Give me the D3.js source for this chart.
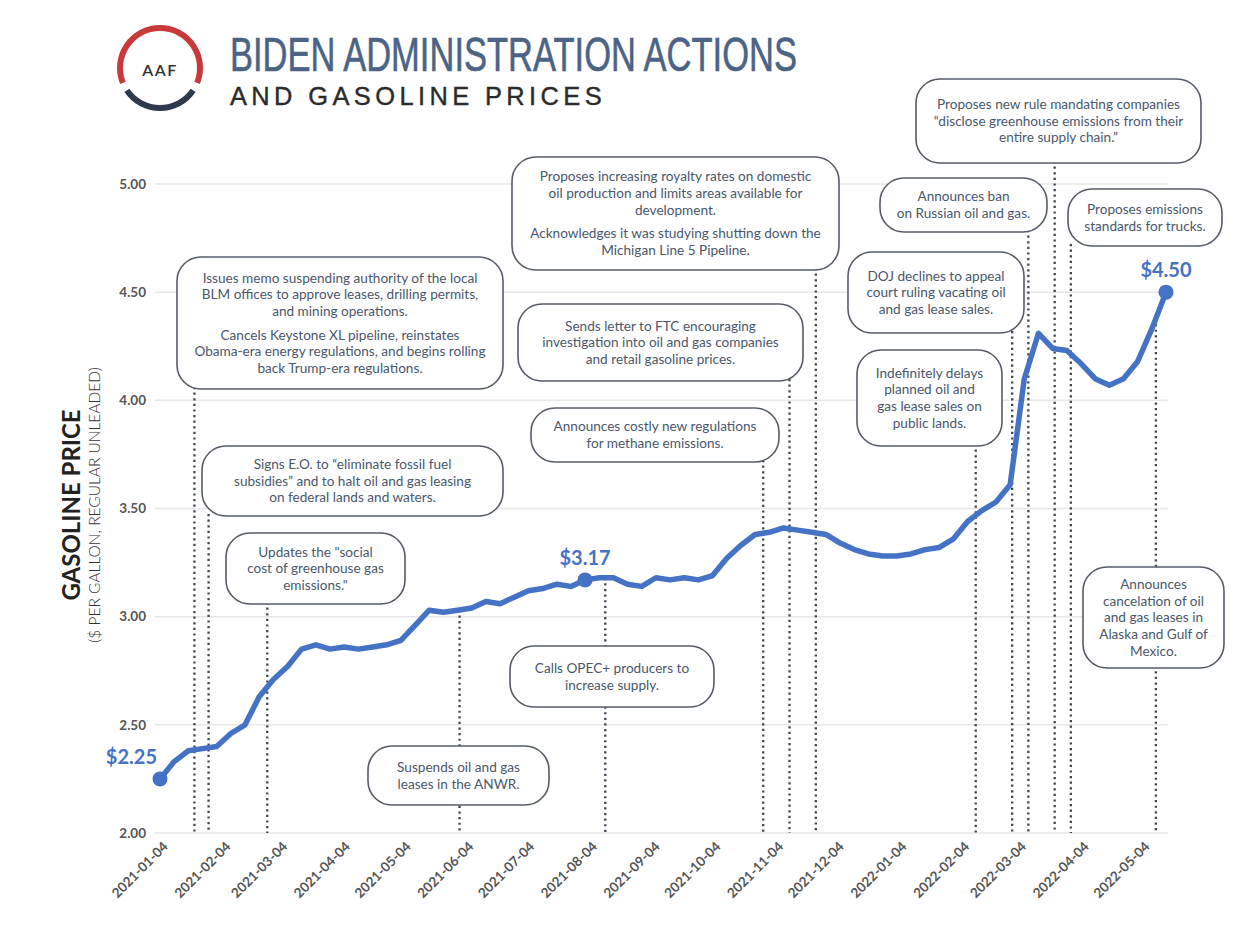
<!DOCTYPE html>
<html>
<head>
<meta charset="utf-8">
<script src="https://cdn.jsdelivr.net/npm/d3@7"></script>
<style>
  html, body { margin: 0; padding: 0; background: #ffffff; }
  svg { display: block; }
</style>
</head>
<body>
<svg id="chart" width="1260" height="928"></svg>
<script>
// ---------------- DATA ----------------
const weekDates = [
  "2021-01-04","2021-01-11","2021-01-18","2021-01-25","2021-02-01","2021-02-08","2021-02-15","2021-02-22",
  "2021-03-01","2021-03-08","2021-03-15","2021-03-22","2021-03-29","2021-04-05","2021-04-12","2021-04-19",
  "2021-04-26","2021-05-03","2021-05-10","2021-05-17","2021-05-24","2021-05-31","2021-06-07","2021-06-14",
  "2021-06-21","2021-06-28","2021-07-05","2021-07-12","2021-07-19","2021-07-26","2021-08-02","2021-08-09",
  "2021-08-16","2021-08-23","2021-08-30","2021-09-06","2021-09-13","2021-09-20","2021-09-27","2021-10-04",
  "2021-10-11","2021-10-18","2021-10-25","2021-11-01","2021-11-08","2021-11-15","2021-11-22","2021-11-29",
  "2021-12-06","2021-12-13","2021-12-20","2021-12-27","2022-01-03","2022-01-10","2022-01-17","2022-01-24",
  "2022-01-31","2022-02-07","2022-02-14","2022-02-21","2022-02-28","2022-03-07","2022-03-14","2022-03-21",
  "2022-03-28","2022-04-04","2022-04-11","2022-04-18","2022-04-25","2022-05-02","2022-05-09","2022-05-16"
];
const prices = [
  2.25, 2.33, 2.38, 2.39, 2.40, 2.46, 2.50, 2.63,
  2.71, 2.77, 2.85, 2.87, 2.85, 2.86, 2.85, 2.86,
  2.87, 2.89, 2.96, 3.03, 3.02, 3.03, 3.04, 3.07,
  3.06, 3.09, 3.12, 3.13, 3.15, 3.14, 3.17, 3.18,
  3.18, 3.15, 3.14, 3.18, 3.17, 3.18, 3.17, 3.19,
  3.27, 3.33, 3.38, 3.39, 3.41, 3.40, 3.39, 3.38,
  3.34, 3.31, 3.29, 3.28, 3.28, 3.29, 3.31, 3.32,
  3.36, 3.44, 3.49, 3.53, 3.61, 4.10, 4.31, 4.24,
  4.23, 4.17, 4.10, 4.07, 4.10, 4.18, 4.33, 4.50
];
const xTickLabels = [
  "2021-01-04","2021-02-04","2021-03-04","2021-04-04","2021-05-04","2021-06-04","2021-07-04","2021-08-04",
  "2021-09-04","2021-10-04","2021-11-04","2021-12-04","2022-01-04","2022-02-04","2022-03-04","2022-04-04","2022-05-04"
];
const yTickValues = [2.00, 2.50, 3.00, 3.50, 4.00, 4.50, 5.00];
const highlightDates = ["2021-01-04", "2021-08-02", "2022-05-16"];
const highlightLabels = ["$2.25", "$3.17", "$4.50"];

const eventDates = [
  "2021-01-21","2021-01-28","2021-02-26","2021-06-01","2021-08-12","2021-10-29","2021-11-11",
  "2021-11-24","2022-02-11","2022-03-01","2022-03-09","2022-03-22","2022-03-30","2022-05-11"
];
const eventTexts = [
  ["Issues memo suspending authority of the local","BLM offices to approve leases, drilling permits,","and mining operations.","","Cancels Keystone XL pipeline, reinstates","Obama-era energy regulations, and begins rolling","back Trump-era regulations."],
  ["Signs E.O. to \u201celiminate fossil fuel","subsidies\u201d and to halt oil and gas leasing","on federal lands and waters."],
  ["Updates the \"social","cost of greenhouse gas","emissions.\""],
  ["Suspends oil and gas","leases in the ANWR."],
  ["Calls OPEC+ producers to","increase supply."],
  ["Announces costly new regulations","for methane emissions."],
  ["Sends letter to FTC encouraging","investigation into oil and gas companies","and retail gasoline prices."],
  ["Proposes increasing royalty rates on domestic","oil production and limits areas available for","development.","","Acknowledges it was studying shutting down the","Michigan Line 5 Pipeline."],
  ["Indefinitely delays","planned oil and","gas lease sales on","public lands."],
  ["DOJ declines to appeal","court ruling vacating oil","and gas lease sales."],
  ["Announces ban","on Russian oil and gas."],
  ["Proposes new rule mandating companies","\u201cdisclose greenhouse emissions from their","entire supply chain.\u201d"],
  ["Proposes emissions","standards for trucks."],
  ["Announces","cancelation of oil","and gas leases in","Alaska and Gulf of","Mexico."]
];
// annotation box layout (pixels): left, top, width, height, and whether box sits below the line
const boxLayout = [
  {x:177, y:257, w:326, h:132, below:false},
  {x:202, y:446, w:301, h:70,  below:false},
  {x:226, y:533, w:179, h:71,  below:false},
  {x:368, y:746, w:181, h:59,  below:true},
  {x:510, y:646, w:204, h:61,  below:true},
  {x:531, y:408, w:248, h:54,  below:false},
  {x:518, y:304, w:285, h:77,  below:false},
  {x:512, y:157, w:327, h:113, below:false},
  {x:857, y:350, w:145, h:96,  below:false},
  {x:848, y:252, w:176, h:81,  below:false},
  {x:880, y:178, w:167, h:54,  below:false},
  {x:916, y:79,  w:285, h:84,  below:false},
  {x:1068,y:189, w:154, h:57,  below:false},
  {x:1083,y:567, w:141, h:101, below:true}
];

// ---------------- DRAW ----------------
const parse = d3.utcParse("%Y-%m-%d");
const svg = d3.select("#chart");
const FONT = "Lato, 'Open Sans', sans-serif";
const TITLEFONT = "'Liberation Sans Narrow', 'Liberation Sans', Arial, sans-serif";

const x = d3.scaleUtc()
  .domain([parse("2021-01-04"), parse("2022-05-16")])
  .range([160, 1166]);
const y = d3.scaleLinear().domain([2, 5]).range([833, 184]);

const series = weekDates.map((d, i) => ({date: parse(d), value: prices[i]}));

// Gridlines + y labels
const yAxis = d3.axisLeft(y).tickValues(yTickValues).tickFormat(d3.format(".2f")).tickSize(0).tickPadding(9);
const yg = svg.append("g").attr("transform", "translate(155,0)").call(yAxis);
yg.select(".domain").remove();
yg.selectAll("text")
  .attr("font-family", FONT)
  .attr("font-weight", 700).attr("font-size", 13.5).attr("fill", "#555");
svg.append("g").selectAll("line").data(yTickValues).join("line")
  .attr("x1", 155).attr("x2", 1168)
  .attr("y1", d => y(d)).attr("y2", d => y(d))
  .attr("stroke", "#e6e6e6").attr("stroke-width", 1.5);

// X axis labels
const xAxis = d3.axisBottom(x).tickValues(xTickLabels.map(parse)).tickFormat(d3.utcFormat("%Y-%m-%d")).tickSize(0);
const xg = svg.append("g").attr("transform", "translate(0,833)").call(xAxis);
xg.select(".domain").remove();
xg.selectAll("text")
  .attr("font-family", FONT)
  .attr("font-weight", 700).attr("font-size", 13.5).attr("fill", "#555")
  .attr("text-anchor", "end")
  .attr("transform", "translate(5,11) rotate(-45)")
  .attr("dy", "0.35em").attr("y", 0);

// interpolate value at a date
const bis = d3.bisector(d => d.date).left;
function valueAt(dt) {
  const i = Math.min(Math.max(bis(series, dt), 1), series.length - 1);
  const a = series[i - 1], b = series[i];
  const t = (dt - a.date) / (b.date - a.date);
  return a.value + (b.value - a.value) * t;
}

// Dotted event lines
const evs = eventDates.map((d, i) => ({date: parse(d), text: eventTexts[i], box: boxLayout[i]}));
svg.append("g").selectAll("line").data(evs).join("line")
  .attr("x1", d => x(d.date)).attr("x2", d => x(d.date))
  .attr("y1", d => d.box.below ? y(valueAt(d.date)) : d.box.y + d.box.h - 2)
  .attr("y2", y(2))
  .attr("stroke", "#3f4652").attr("stroke-width", 2.3)
  .attr("stroke-dasharray", "2.2 3.4");

// Price line
svg.append("path").datum(series)
  .attr("fill", "none").attr("stroke", "#4472c4").attr("stroke-width", 5.5)
  .attr("stroke-linejoin", "round").attr("stroke-linecap", "round")
  .attr("d", d3.line().x(d => x(d.date)).y(d => y(d.value)));

// Highlight dots and labels
const hl = highlightDates.map((d, i) => {
  const s = series.find(p => +p.date === +parse(d));
  return {date: s.date, value: s.value, label: highlightLabels[i], idx: i};
});
svg.append("g").selectAll("circle").data(hl).join("circle")
  .attr("cx", d => x(d.date)).attr("cy", d => y(d.value)).attr("r", 7.5)
  .attr("fill", "#4472c4");
svg.append("g").selectAll("text").data(hl).join("text")
  .attr("x", d => d.idx === 0 ? x(d.date) - 3 : x(d.date))
  .attr("y", d => y(d.value) - 15)
  .attr("text-anchor", d => d.idx === 0 ? "end" : "middle")
  .attr("font-family", FONT)
  .attr("font-weight", 700).attr("font-size", 20).attr("fill", "#4472c4")
  .text(d => d.label);

// Annotation boxes
const lh = 16.7, pg = 7;
const bg = svg.append("g").selectAll("g").data(evs).join("g");
bg.append("rect")
  .attr("x", d => d.box.x).attr("y", d => d.box.y)
  .attr("width", d => d.box.w).attr("height", d => d.box.h)
  .attr("rx", d => Math.min(24, d.box.h / 2.2)).attr("ry", d => Math.min(24, d.box.h / 2.2))
  .attr("fill", "#ffffff").attr("stroke", "#555c68").attr("stroke-width", 1.6);
bg.each(function(d) {
  const g = d3.select(this);
  const lines = d.text;
  const nText = lines.filter(l => l !== "").length;
  const nGap = lines.filter(l => l === "").length;
  const total = nText * lh + nGap * pg;
  let cy = d.box.y + d.box.h / 2 - total / 2;
  const cx = d.box.x + d.box.w / 2;
  lines.forEach(l => {
    if (l === "") { cy += pg; return; }
    g.append("text")
      .attr("x", cx).attr("y", cy + lh / 2)
      .attr("dy", "0.35em")
      .attr("text-anchor", "middle")
      .attr("font-family", FONT)
      .attr("font-size", 13.6).attr("fill", "#4a576b")
      .text(l);
    cy += lh;
  });
});

// Axis titles
svg.append("text")
  .attr("transform", "translate(80,505) rotate(-90)")
  .attr("text-anchor", "middle")
  .attr("font-family", FONT)
  .attr("font-weight", 700).attr("font-size", 24).attr("fill", "#222")
  .text("GASOLINE PRICE");
svg.append("text")
  .attr("transform", "translate(100,505) rotate(-90)")
  .attr("text-anchor", "middle")
  .attr("font-family", FONT)
  .attr("font-weight", 300).attr("font-size", 15.5).attr("fill", "#333")
  .text("($ PER GALLON, REGULAR UNLEADED)");

// Logo
const logo = svg.append("g").attr("transform", "translate(160,68)");
const arc = d3.arc().innerRadius(37).outerRadius(43);
logo.append("path").attr("d", arc({startAngle: -112 * Math.PI / 180, endAngle: 112 * Math.PI / 180})).attr("fill", "#c9383b");
logo.append("path").attr("d", arc({startAngle: 124 * Math.PI / 180, endAngle: 236 * Math.PI / 180})).attr("fill", "#2e3a4e");
logo.append("text").attr("text-anchor", "middle").attr("dy", "0.35em").attr("y", 2)
  .attr("font-family", FONT).attr("font-weight", 600)
  .attr("font-size", 16).attr("letter-spacing", 1.5).attr("fill", "#333")
  .text("AAF");

// Titles
svg.append("text")
  .attr("x", 230).attr("y", 70.5)
  .attr("font-family", TITLEFONT).attr("font-weight", 400)
  .attr("font-size", 49).attr("fill", "#4b6385")
  .attr("stroke", "#4b6385").attr("stroke-width", 0.6)
  .attr("textLength", 567).attr("lengthAdjust", "spacingAndGlyphs")
  .text("BIDEN ADMINISTRATION ACTIONS");
svg.append("text")
  .attr("x", 230).attr("y", 104.5)
  .attr("font-family", TITLEFONT).attr("font-weight", 400)
  .attr("font-size", 26).attr("fill", "#2b2b2b")
  .attr("stroke", "#2b2b2b").attr("stroke-width", 0.4)
  .attr("textLength", 376).attr("lengthAdjust", "spacingAndGlyphs")
  .attr("letter-spacing", 4.5)
  .text("AND GASOLINE PRICES");
</script>
</body>
</html>
